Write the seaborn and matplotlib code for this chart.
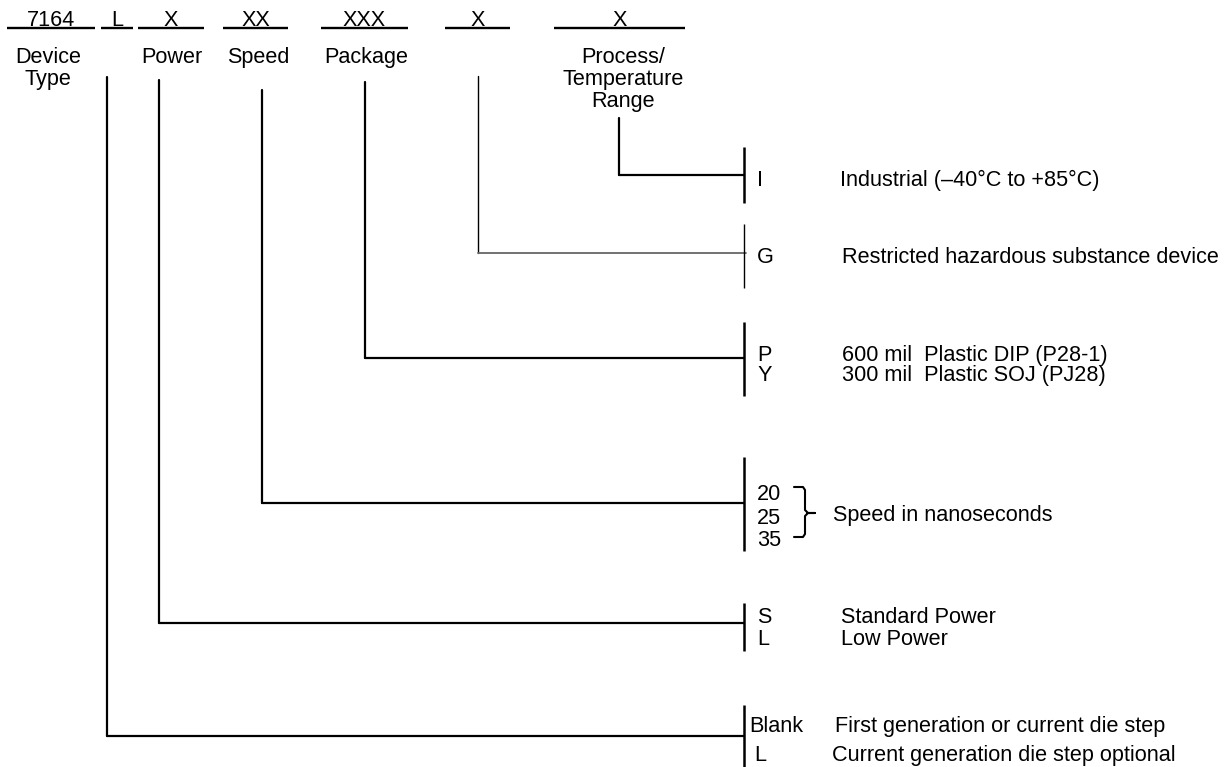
import matplotlib
matplotlib.use("Agg")
import matplotlib.pyplot as plt
import seaborn as sns

# part number fields
codes = ["7164", "L", "X", "XX", "XXX", "X", "X"]
field_names = ["Device\nType", "", "Power", "Speed", "Package", "", "Process/\nTemperature\nRange"]

# options per field, top to bottom
option_codes = [["I"], ["G"], ["P", "Y"], ["20", "25", "35"], ["S", "L"], ["Blank", "L"]]
option_texts = [
    ["Industrial (\u201340\u00b0C to +85\u00b0C)"],
    ["Restricted hazardous substance device"],
    ["600 mil  Plastic DIP (P28-1)", "300 mil  Plastic SOJ (PJ28)"],
    ["Speed in nanoseconds"],
    ["Standard Power", "Low Power"],
    ["First generation or current die step", "Current generation die step optional"],
]

# layout (pixel coords, y down)
ul_span = [(7, 95), (101, 133), (138, 204), (223, 288), (321, 408), (445, 510), (554, 685)]
name_x = [48, None, 172, 258, 366, None, 623]
# connector: field index, x, top y, row y
connectors = [(6, 619, 118, 175), (5, 478, 76, 253), (4, 365, 82, 358),
              (3, 262, 90, 503), (2, 159, 80, 623), (1, 107, 77, 736)]
bar_x = 744
bars = [(147, 203), (224, 288), (322, 396), (457, 551), (603, 651), (705, 770)]
code_x = [[757], [757], [757, 757], [757, 757, 757], [757, 757], [749, 754]]
code_y = [[178], [255], [353, 373], [492, 516, 538], [615, 637], [724, 753]]
text_x = [[840], [842], [842, 842], [833], [841, 841], [835, 832]]
text_y = [[178], [255], [353, 373], [513], [615, 637], [724, 753]]

sns.set_theme(style="white")
plt.rcParams["font.family"] = ["Liberation Sans", "DejaVu Sans"]
plt.rcParams["text.color"] = "black"

fig = plt.figure(figsize=(12.24, 7.67), dpi=100)
ax = fig.add_axes([0, 0, 1, 1])
ax.set_xlim(0, 1224)
ax.set_ylim(767, 0)
ax.axis("off")

fs = 15.6
cap = 7.8  # half cap height in px, for baseline placement

# header codes with underlines
for code, (x0, x1) in zip(codes, ul_span):
    ax.plot([x0, x1], [28, 28], color="black", lw=1.7, solid_capstyle="butt")
    ax.text((x0 + x1) / 2, 18 + cap, code, ha="center", va="baseline", fontsize=fs)

for name, x in zip(field_names, name_x):
    if not name:
        continue
    for k, line in enumerate(name.split("\n")):
        ax.text(x, 55 + 22 * k + cap, line, ha="center", va="baseline", fontsize=fs)

# connectors from fields to option bars
for fi, x, y0, y1 in connectors:
    thin = codes[fi] == "X" and field_names[fi] == ""
    col = "#666666" if thin else "black"
    lw = 1.0 if thin else 1.6
    ax.plot([x, x], [y0, y1], color="black", lw=lw)
    ax.plot([x, bar_x + (2 if thin else 0)], [y1, y1], color=col, lw=lw + (0.3 if thin else 0))

for i, (y0, y1) in enumerate(bars):
    lw = 1.0 if i == 1 else 1.8
    ax.plot([bar_x, bar_x], [y0, y1], color="black", lw=lw, solid_capstyle="butt")

# option codes and descriptions
for oc, cx, cy in zip(option_codes, code_x, code_y):
    for c, x, y in zip(oc, cx, cy):
        ax.text(x, y + cap, c, ha="left", va="baseline", fontsize=fs)
for ot, tx, ty in zip(option_texts, text_x, text_y):
    for t, x, y in zip(ot, tx, ty):
        ax.text(x, y + cap, t, ha="left", va="baseline", fontsize=fs)

# brace for speed options
bx = [794, 803, 805, 805, 808, 815, 808, 805, 805, 803, 794]
by = [487, 487, 490, 510, 513, 513, 513, 516, 534, 537, 537]
ax.plot(bx, by, color="black", lw=1.5)

fig.savefig("out.png", dpi=100)
